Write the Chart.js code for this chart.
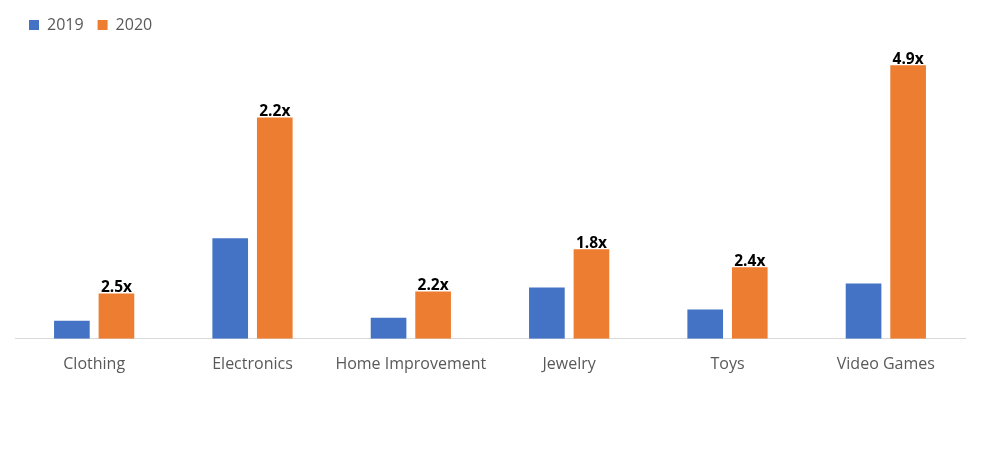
<!DOCTYPE html>
<html>
<head>
<meta charset="utf-8">
<script src="https://cdn.jsdelivr.net/npm/chart.js@4"></script>
<style>
  html, body { margin: 0; padding: 0; background: #fff; }
  #wrap { width: 982px; height: 450px; position: relative; }
</style>
</head>
<body>
<div id="wrap"><canvas id="grafico"></canvas></div>
<script>
const categorias = ['Clothing', 'Electronics', 'Home Improvement', 'Jewelry', 'Toys', 'Video Games'];
const valores2019 = [18, 100, 21, 51, 29, 55];
const valores2020 = [45, 220, 47, 89, 71, 272];
const rotulos = ['2.5x', '2.2x', '2.2x', '1.8x', '2.4x', '4.9x'];

// escreve o "x vezes" em cima das barras de 2020
const rotuloPlugin = {
  id: 'rotuloPlugin',
  afterDatasetsDraw(chart) {
    const ctx = chart.ctx;
    const meta = chart.getDatasetMeta(1);
    ctx.save();
    ctx.font = 'bold 15.5px "Open Sans", sans-serif';
    ctx.fillStyle = '#000';
    ctx.textAlign = 'center';
    ctx.textBaseline = 'bottom';
    meta.data.forEach((bar, i) => {
      ctx.fillText(rotulos[i], bar.x, bar.y + 2);
    });
    ctx.restore();
  }
};

new Chart(document.getElementById('grafico'), {
  type: 'bar',
  data: {
    labels: categorias,
    datasets: [
      { label: '2019', data: valores2019, backgroundColor: '#4472C4' },
      { label: '2020', data: valores2020, backgroundColor: '#ED7D31' }
    ]
  },
  options: {
    responsive: true,
    maintainAspectRatio: false,
    animation: false,
    categoryPercentage: 0.563,
    barPercentage: 0.8,
    layout: { padding: { left: 15, right: 17, top: 3, bottom: 68 } },
    plugins: {
      legend: {
        align: 'start',
        labels: {
          boxWidth: 10,
          boxHeight: 10,
          color: '#595959',
          font: { size: 16, family: '"Open Sans", sans-serif' },
          padding: 14
        }
      },
      tooltip: { enabled: false }
    },
    scales: {
      x: {
        grid: { display: false },
        border: { color: '#d9d9d9', width: 1 },
        ticks: {
          color: '#595959',
          font: { size: 16, family: '"Open Sans", sans-serif' },
          padding: 8
        }
      },
      y: {
        display: false,
        min: 0,
        max: 294
      }
    }
  },
  plugins: [rotuloPlugin]
});
</script>
</body>
</html>
